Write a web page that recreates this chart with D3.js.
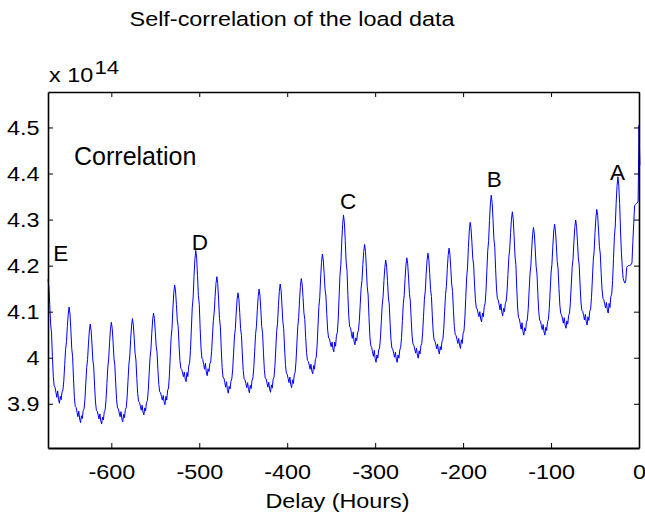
<!DOCTYPE html>
<html lang="en">
<head>
<meta charset="UTF-8">
<title>Self-correlation of the load data</title>
<style>
    body { margin: 0; background: #fff; }
    svg { display: block; font-family: "Liberation Sans", Arial, Helvetica, sans-serif; }
</style>
</head>
<body>
<div id="chart"></div>
<script src="https://d3js.org/d3.v7.min.js"></script>
<script>
// correlation (x 10^14) per hour of delay, one row per day, lag -672 ... -1
const week4 = [
    4.170,4.154,4.116,4.073,4.054,4.003,3.960,3.939,3.936,3.925,3.914,3.928,3.909,3.901,3.916,3.909,3.926,3.930,3.951,3.985,4.018,4.035,4.068,4.095,
    4.110,4.095,4.060,4.020,4.002,3.954,3.914,3.894,3.892,3.882,3.872,3.884,3.867,3.859,3.874,3.868,3.885,3.889,3.910,3.945,3.979,3.996,4.030,4.058,
    4.073,4.060,4.030,3.995,3.980,3.938,3.904,3.886,3.884,3.876,3.867,3.878,3.863,3.856,3.871,3.865,3.883,3.887,3.909,3.944,3.980,3.997,4.033,4.062,
    4.077,4.064,4.034,3.999,3.984,3.943,3.909,3.891,3.889,3.880,3.872,3.883,3.867,3.861,3.877,3.870,3.888,3.892,3.915,3.951,3.986,4.004,4.040,4.069,
    4.085,4.072,4.043,4.010,3.995,3.955,3.922,3.905,3.903,3.895,3.886,3.897,3.882,3.876,3.891,3.885,3.903,3.907,3.929,3.964,4.000,4.017,4.053,4.082,
    4.097,4.085,4.057,4.025,4.011,3.974,3.942,3.926,3.924,3.916,3.908,3.918,3.904,3.898,3.916,3.908,3.929,3.934,3.960,4.002,4.044,4.064,4.106,4.140,
    4.158,4.145,4.116,4.082,4.068,4.028,3.994,3.977,3.975,3.967,3.959,3.969,3.954,3.948,3.968,3.959,3.982,3.988,4.016,4.062,4.108,4.130,4.176,4.213
];
const week3 = [
    4.233,4.217,4.179,4.135,4.116,4.064,4.021,3.999,3.996,3.985,3.975,3.988,3.969,3.961,3.976,3.970,3.987,3.991,4.013,4.047,4.081,4.099,4.133,4.161,
    4.176,4.161,4.125,4.085,4.067,4.019,3.979,3.958,3.956,3.946,3.936,3.948,3.931,3.923,3.938,3.932,3.949,3.954,3.975,4.010,4.045,4.063,4.097,4.126,
    4.141,4.128,4.098,4.063,4.048,4.006,3.972,3.954,3.952,3.944,3.935,3.946,3.931,3.924,3.940,3.933,3.951,3.956,3.978,4.014,4.050,4.068,4.104,4.133,
    4.149,4.136,4.104,4.068,4.053,4.010,3.974,3.956,3.954,3.945,3.936,3.947,3.932,3.925,3.941,3.934,3.953,3.958,3.981,4.019,4.057,4.075,4.113,4.144,
    4.160,4.147,4.115,4.079,4.063,4.021,3.985,3.967,3.964,3.955,3.946,3.958,3.942,3.935,3.952,3.944,3.963,3.968,3.992,4.030,4.068,4.087,4.125,4.155,
    4.172,4.160,4.131,4.097,4.083,4.044,4.011,3.994,3.992,3.984,3.975,3.986,3.971,3.965,3.983,3.975,3.996,4.001,4.027,4.069,4.111,4.131,4.173,4.207,
    4.225,4.212,4.183,4.149,4.134,4.094,4.060,4.043,4.041,4.032,4.024,4.034,4.019,4.013,4.034,4.025,4.049,4.055,4.084,4.132,4.179,4.203,4.251,4.289
];
const week2 = [
    4.310,4.293,4.254,4.208,4.189,4.135,4.090,4.067,4.065,4.053,4.042,4.056,4.036,4.028,4.043,4.037,4.054,4.059,4.080,4.115,4.150,4.168,4.202,4.231,
    4.246,4.231,4.195,4.154,4.136,4.087,4.046,4.026,4.023,4.013,4.003,4.016,3.998,3.990,4.006,3.999,4.017,4.021,4.043,4.079,4.114,4.132,4.168,4.196,
    4.212,4.199,4.168,4.132,4.117,4.074,4.039,4.021,4.019,4.010,4.001,4.012,3.997,3.990,4.006,3.999,4.017,4.022,4.044,4.081,4.117,4.135,4.172,4.201,
    4.217,4.204,4.173,4.139,4.123,4.082,4.047,4.030,4.027,4.019,4.010,4.021,4.006,3.999,4.015,4.008,4.026,4.031,4.054,4.090,4.127,4.145,4.181,4.211,
    4.227,4.214,4.183,4.148,4.133,4.091,4.056,4.039,4.036,4.028,4.019,4.030,4.015,4.008,4.024,4.017,4.036,4.040,4.063,4.100,4.137,4.155,4.192,4.222,
    4.238,4.225,4.194,4.160,4.144,4.103,4.068,4.051,4.048,4.040,4.031,4.042,4.027,4.020,4.039,4.031,4.053,4.058,4.086,4.130,4.173,4.195,4.239,4.275,
    4.294,4.281,4.251,4.216,4.201,4.160,4.126,4.108,4.106,4.097,4.089,4.100,4.084,4.078,4.097,4.089,4.111,4.117,4.144,4.188,4.232,4.254,4.298,4.334
];
const week1 = [
    4.353,4.337,4.301,4.259,4.240,4.191,4.149,4.128,4.125,4.115,4.104,4.117,4.099,4.091,4.107,4.100,4.118,4.123,4.145,4.181,4.218,4.236,4.272,4.301,
    4.317,4.301,4.263,4.221,4.202,4.151,4.108,4.087,4.084,4.073,4.062,4.076,4.057,4.049,4.065,4.058,4.077,4.082,4.105,4.143,4.180,4.199,4.236,4.267,
    4.283,4.269,4.236,4.199,4.182,4.138,4.100,4.082,4.079,4.070,4.061,4.072,4.056,4.049,4.066,4.059,4.078,4.083,4.107,4.145,4.184,4.203,4.242,4.273,
    4.290,4.276,4.245,4.209,4.193,4.150,4.114,4.096,4.093,4.084,4.075,4.087,4.071,4.064,4.080,4.073,4.092,4.097,4.120,4.158,4.196,4.214,4.252,4.283,
    4.299,4.285,4.253,4.217,4.201,4.158,4.121,4.103,4.101,4.092,4.082,4.094,4.078,4.071,4.089,4.081,4.101,4.106,4.131,4.171,4.212,4.232,4.272,4.304,
    4.322,4.309,4.277,4.241,4.225,4.183,4.147,4.129,4.126,4.117,4.108,4.120,4.104,4.097,4.118,4.109,4.133,4.138,4.168,4.215,4.263,4.286,4.334,4.372,
    4.393,4.375,4.335,4.275,4.228,4.196,4.172,4.166,4.162,4.168,4.196,4.199,4.200,4.200,4.201,4.202,4.206,4.252,4.292,4.330,4.333,4.335,4.336,4.340
];
// lag 0 and lag +1
const lastLags = [4.505, 4.418];
const firstLag = -672;

const xTicks = [-600, -500, -400, -300, -200, -100, 0];
const yTicks = [3.9, 4.0, 4.1, 4.2, 4.3, 4.4, 4.5];
const yTickLabels = ['3.9', '4', '4.1', '4.2', '4.3', '4.4', '4.5'];

// text labels placed in data units (left edge, vertical middle)
const markNames = ['E', 'D', 'C', 'B', 'A'];
const markLags = [-666, -508.6, -340, -173.2, -33];
const markValues = [4.227, 4.2505, 4.340, 4.3885, 4.404];

const width = 645, height = 515;
const plotLeft = 48, plotRight = 639, plotTop = 92, plotBottom = 448;
const lineColor = '#0000ff';
const fontSize = 19.5;
const stretch = 1.2;

const series = week4.concat(week3, week2, week1, lastLags)
    .map((v, i) => ({ lag: firstLag + i, value: v }));

const x = d3.scaleLinear().domain([-672, 0]).range([plotLeft, plotRight]);
const y = d3.scaleLinear().domain([3.804, 4.577]).range([plotBottom, plotTop]);

const svg = d3.select('#chart').append('svg')
    .attr('width', width)
    .attr('height', height);

// the curve
svg.append('path')
    .datum(series)
    .attr('fill', 'none')
    .attr('stroke', lineColor)
    .attr('stroke-width', 1)
    .attr('d', d3.line().x(d => x(d.lag)).y(d => y(d.value)));

// axes, ticks pointing inwards on all four sides
function styleAxis(g, w) {
    g.select('.domain').attr('stroke', '#000').attr('stroke-width', w);
    g.selectAll('.tick line').attr('stroke', '#000').attr('stroke-width', 1);
}

const xAxis = svg.append('g')
    .attr('transform', `translate(0,${plotBottom})`)
    .call(d3.axisBottom(x).tickValues(xTicks).tickSizeInner(-5).tickSizeOuter(0).tickFormat(d => d));
styleAxis(xAxis, 2);
xAxis.selectAll('.tick text')
    .attr('fill', '#000')
    .attr('x', null).attr('y', null).attr('dy', null)
    .attr('font-size', fontSize)
    .attr('text-anchor', 'middle')
    .attr('transform', `translate(0,31) scale(${stretch},1)`);

const yAxis = svg.append('g')
    .attr('transform', `translate(${plotLeft},0)`)
    .call(d3.axisLeft(y).tickValues(yTicks).tickSizeInner(-5).tickSizeOuter(0).tickFormat((d, i) => yTickLabels[i]));
styleAxis(yAxis, 1.6);
yAxis.selectAll('.tick text')
    .attr('fill', '#000')
    .attr('x', null).attr('y', null).attr('dy', null)
    .attr('font-size', fontSize)
    .attr('text-anchor', 'end')
    .attr('transform', `translate(-8.5,7) scale(${stretch},1)`);

const topAxis = svg.append('g')
    .attr('transform', `translate(0,${plotTop})`)
    .call(d3.axisTop(x).tickValues(xTicks).tickSizeInner(-5).tickSizeOuter(0).tickFormat(''));
styleAxis(topAxis, 1.3);

const rightAxis = svg.append('g')
    .attr('transform', `translate(${plotRight},0)`)
    .call(d3.axisRight(y).tickValues(yTicks).tickSizeInner(-5).tickSizeOuter(0).tickFormat(''));
styleAxis(rightAxis, 1.6);

// exponent
const expo = svg.append('text')
    .attr('transform', `translate(49,81.7) scale(${stretch},1)`)
    .attr('font-size', fontSize)
    .attr('fill', '#000');
expo.append('tspan').text('x 10');
expo.append('tspan').attr('dy', -7.7).attr('dx', 1).attr('font-size', 18.5).text('14');

// title and x label
svg.append('text')
    .attr('transform', `translate(292,26) scale(${stretch},1)`)
    .attr('text-anchor', 'middle')
    .attr('font-size', fontSize)
    .attr('fill', '#000')
    .text('Self-correlation of the load data');

svg.append('text')
    .attr('transform', `translate(${(plotLeft + plotRight) / 2 - 6},508) scale(${stretch},1)`)
    .attr('text-anchor', 'middle')
    .attr('font-size', fontSize)
    .attr('fill', '#000')
    .text('Delay (Hours)');

// in-plot labels
svg.append('text')
    .attr('x', x(-642.4))
    .attr('y', y(4.438))
    .attr('dy', '0.36em')
    .attr('font-size', 25)
    .attr('fill', '#000')
    .text('Correlation');

svg.append('g').selectAll('text')
    .data(markNames)
    .join('text')
    .attr('x', (d, i) => x(markLags[i]))
    .attr('y', (d, i) => y(markValues[i]))
    .attr('dy', '0.36em')
    .attr('font-size', 22.5)
    .attr('fill', '#000')
    .text(d => d);
</script>
</body>
</html>
